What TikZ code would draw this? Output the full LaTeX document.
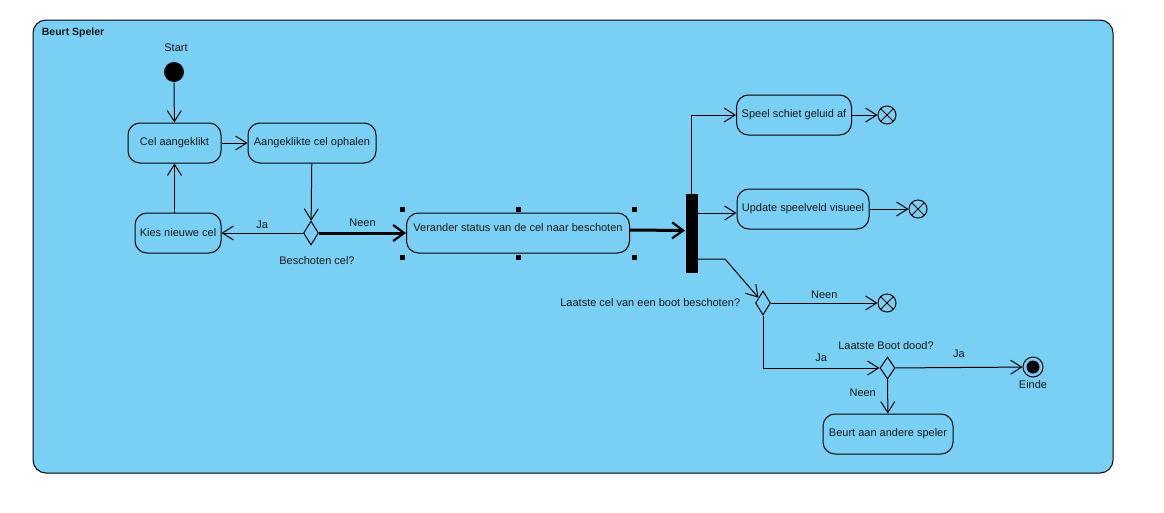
\documentclass[tikz,border=0pt]{standalone}
\usepackage{fontspec}
\setmainfont{Liberation Sans}
\usepackage[rgb]{xcolor}
\usepackage{tikz}
\usetikzlibrary{arrows.meta,shapes.geometric,fit}
\definecolor{vlak}{RGB}{122,207,244}
\definecolor{tekst}{RGB}{25,25,25}

\begin{document}
\begin{tikzpicture}[x=1pt, y=-1pt, line width=1pt,
    font=\fontsize{11}{13}\selectfont, text=tekst,
    actie/.style={draw, rounded corners=12pt, minimum height=40pt, inner sep=3pt},
    keuze/.style={draw, diamond, minimum width=15pt, minimum height=24pt, inner sep=0},
    stop/.style={draw, circle, minimum size=18pt, inner sep=0},
    pijl/.style={-{Straight Barb[length=11pt,width=14pt]}},
    dik/.style={line width=3pt, -{Straight Barb[length=11pt,width=16pt,line width=2.2pt]}}]
    \useasboundingbox (0,0) rectangle (1164,512);
    % kader
    \draw[fill=vlak, rounded corners=13pt] (33,20) rectangle (1113,473);
    \node[anchor=west, font=\fontsize{10.5}{12}\selectfont\bfseries] (titel) at (38,33) {Beurt Speler};
    % knopen
    \node[circle, fill=black, minimum size=20pt, inner sep=0] (start) at (174,72) {};
    \node (starttxt) at (176,48) {Start};
    \node[actie, minimum width=93pt] (klik) at (174.5,143) {Cel aangeklikt};
    \node[actie, minimum width=128pt] (ophalen) at (312,143) {Aangeklikte cel ophalen};
    \node[keuze] (k1) at (311,233) {};
    \node (k1txt) at (317,261) {Beschoten cel?};
    \node[actie, minimum width=86pt] (kies) at (178,233) {Kies nieuwe cel};
    \node[actie, minimum width=223pt, text height=8pt, text depth=12pt] (verander) at (518,233)
        {Verander status van de cel naar beschoten};
    \node[fill=black, minimum width=12pt, minimum height=79pt, inner sep=0] (balk) at (691.5,233.5) {};
    \node[actie, minimum width=115pt] (geluid) at (794,115) {Speel schiet geluid af};
    \node[stop] (eind1) at (887,115) {};
    \node[actie, minimum width=132pt] (update) at (803,209) {Update speelveld visueel};
    \node[stop] (eind2) at (918,209) {};
    \node[keuze] (k2) at (763,303) {};
    \node[anchor=east] (k2txt) at (744,303) {Laatste cel van een boot beschoten?};
    \node[stop] (eind3) at (887,303) {};
    \node[keuze, minimum height=22pt] (k3) at (887.5,368) {};
    \node (k3txt) at (886,346) {Laatste Boot dood?};
    \node[draw, circle, minimum size=20pt, inner sep=0] (einde) at (1033,367) {};
    \fill (einde) circle (6.5pt);
    \node (eindetxt) at (1033,385) {Einde};
    \node[actie, minimum width=130pt] (ander) at (888,434) {Beurt aan andere speler};
    % kruisjes
    \foreach \e in {eind1,eind2,eind3} {
        \draw (\e.north west) -- (\e.south east);
        \draw (\e.north east) -- (\e.south west);
    }
    % selectie
    \node[fit=(verander), inner xsep=3.5pt, inner ysep=3pt] (sel) {};
    \foreach \a in {north west,north,north east,south west,south,south east}
        \fill (sel.\a) ++(-2.5pt,-2.5pt) rectangle ++(5pt,5pt);
    % pijlen
    \draw[pijl] (start) -- (klik);
    \draw[pijl] (klik) -- (ophalen);
    \draw[pijl] (ophalen) -- (k1);
    \draw[pijl] (k1) -- node[above=1pt] (ja1) {Ja} (kies);
    \draw[pijl] (kies.north -| klik.south) -- (klik.south);
    \draw[dik] (k1) -- node[above=2pt] (neen1) {Neen} (verander);
    \draw[dik] ([yshift=3pt]verander.east) -- ([yshift=3pt]balk.west);
    \draw[pijl] (balk.north) |- (geluid);
    \draw[pijl] (geluid) -- (eind1);
    \draw[pijl] ([yshift=-4pt]balk.east |- update.west) -- ([yshift=-4pt]update.west);
    \draw[pijl] (update) -- (eind2);
    \coordinate (knik) at (725,259);
    \draw[pijl] (balk.east |- knik) -- (knik) -- (k2);
    \draw[pijl] (k2) -- node[above=1pt] (neen2) {Neen} (eind3);
    \draw[pijl] (k2.south) |- node[pos=0.75, above=3pt] (ja2) {Ja} (k3);
    \draw[pijl] (k3) -- node[pos=0.5, above=6pt] (ja3) {Ja} (einde);
    \draw[pijl] (k3) -- node[left=8pt, pos=0.4] (neen3) {Neen} (ander);
\end{tikzpicture}
\end{document}
